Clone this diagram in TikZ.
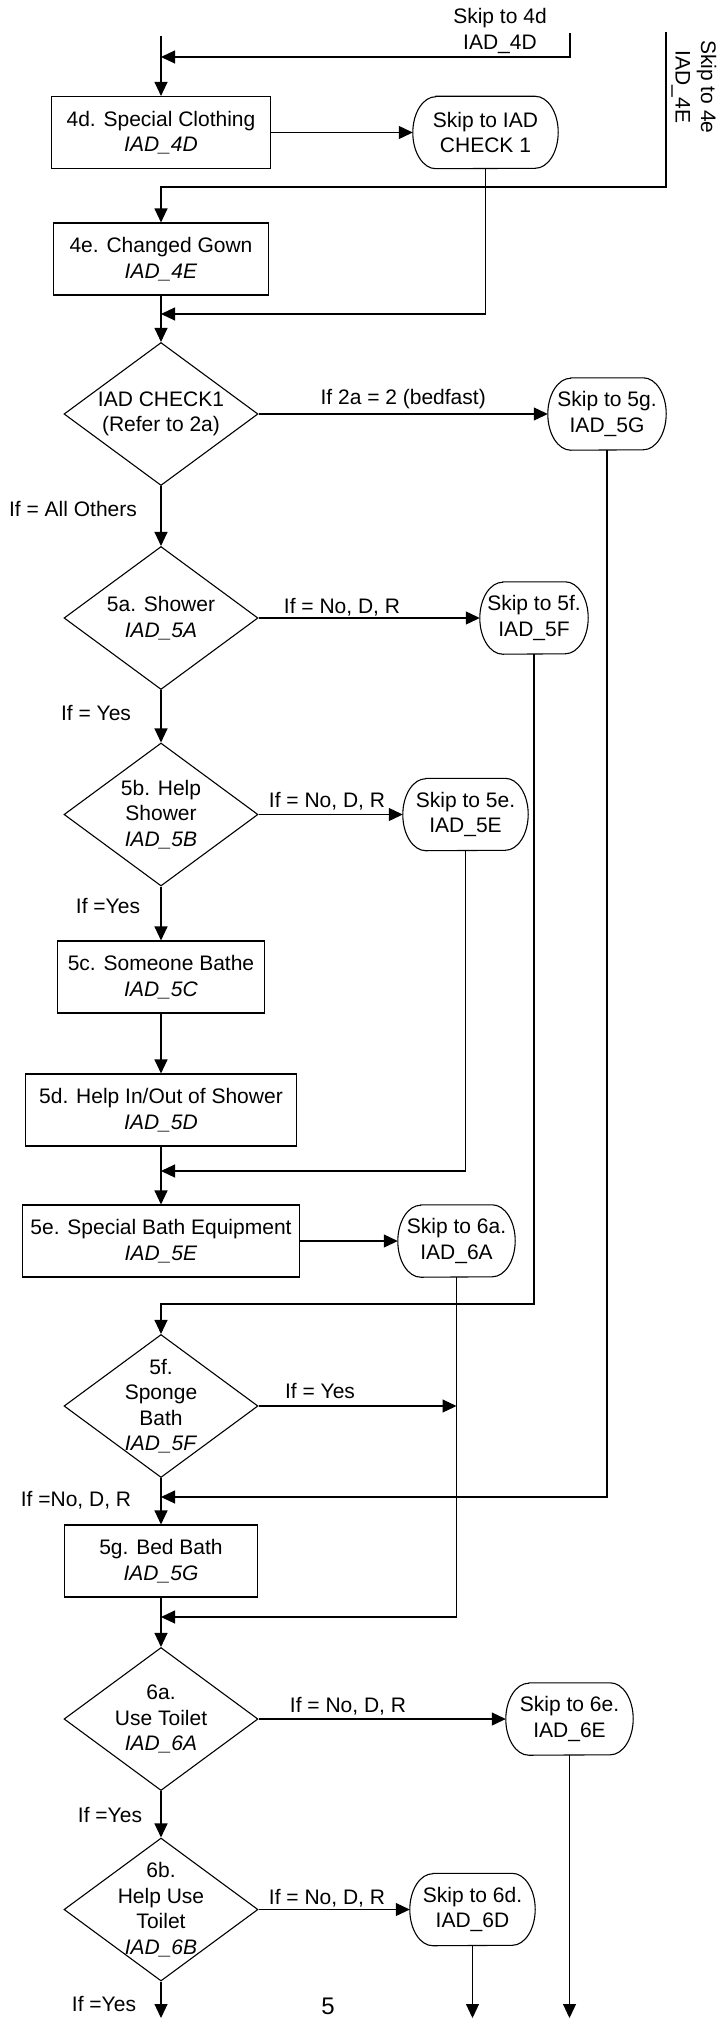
\documentclass[tikz,border=0pt]{standalone}
\usepackage{fontspec}
\setmainfont{Liberation Sans}
\usetikzlibrary{shapes.geometric,arrows.meta}
\newcommand\skipoutline[1]{%
  \draw[conn] ([xshift=23pt]#1.north west) -- ([xshift=-23pt]#1.north east)
    arc[start angle=90,end angle=-90,x radius=23pt,y radius=36pt]
    -- ([xshift=23pt]#1.south west)
    arc[start angle=270,end angle=90,x radius=23pt,y radius=36pt] -- cycle;}
\begin{document}
\begin{tikzpicture}[x=1pt,y=-1pt,
  every node/.style={font=\fontsize{21}{25.5}\selectfont, inner sep=0pt, align=center},
  procbox/.style={draw, line width=1.1pt, rectangle, minimum height=72pt},
  skipbox/.style={rectangle, minimum height=72pt},
  decis/.style={draw, line width=1.1pt, diamond, minimum width=194pt, minimum height=143pt},
  conn/.style={line width=1.1pt},
  arr/.style={conn, -{Triangle[length=14pt,width=13pt]}},
  ]
\useasboundingbox (0,0) rectangle (718,2020);

% ---------- nodes ----------
\node[procbox, minimum width=219pt] (b4d) at (161,132.5) {4d. Special Clothing\\\textit{IAD\_4D}};
\node[skipbox, minimum width=145pt] (s4d) at (485.5,132.5) {Skip to IAD\\CHECK 1};
\node[procbox, minimum width=215pt] (b4e) at (161,259) {4e. Changed Gown\\\textit{IAD\_4E}};
\node[decis, label={center:IAD CHECK1\\(Refer to 2a)}] (d1) at (161,414) {};
\node[skipbox, minimum width=118pt] (s5g) at (607,414) {Skip to 5g.\\IAD\_5G};
\node[decis, label={center:5a. Shower\\\textit{IAD\_5A}}] (d5a) at (161,618) {};
\node[skipbox, minimum width=108pt] (s5f) at (534,618) {Skip to 5f.\\IAD\_5F};
\node[decis, label={center:5b. Help\\Shower\\\textit{IAD\_5B}}] (d5b) at (161,814.5) {};
\node[skipbox, minimum width=125pt] (s5e) at (465.5,814.5) {Skip to 5e.\\IAD\_5E};
\node[procbox, minimum width=207pt] (b5c) at (161,977) {5c. Someone Bathe\\\textit{IAD\_5C}};
\node[procbox, minimum width=271pt] (b5d) at (161,1110) {5d. Help In/Out of Shower\\\textit{IAD\_5D}};
\node[procbox, minimum width=277pt] (b5e) at (161,1241) {5e. Special Bath Equipment\\\textit{IAD\_5E}};
\node[skipbox, minimum width=117pt] (s6a) at (456.5,1241) {Skip to 6a.\\IAD\_6A};
\node[decis, label={center:5f.\\Sponge\\Bath\\\textit{IAD\_5F}}] (d5f) at (161,1406) {};
\node[procbox, minimum width=193pt] (b5g) at (161,1561) {5g. Bed Bath\\\textit{IAD\_5G}};
\node[decis, label={center:6a.\\Use Toilet\\\textit{IAD\_6A}}] (d6a) at (161,1719) {};
\node[skipbox, minimum width=127pt] (s6e) at (569.5,1719) {Skip to 6e.\\IAD\_6E};
\node[decis, label={center:6b.\\Help Use\\Toilet\\\textit{IAD\_6B}}] (d6b) at (161,1909.5) {};
\node[skipbox, minimum width=125pt] (s6d) at (472.5,1909.5) {Skip to 6d.\\IAD\_6D};

\skipoutline{s4d}
\skipoutline{s5g}
\skipoutline{s5f}
\skipoutline{s5e}
\skipoutline{s6a}
\skipoutline{s6e}
\skipoutline{s6d}

% ---------- free texts ----------
\node (t4d) at (500,31) {Skip to 4d\\IAD\_4D};
\node[rotate=-90] (t4e) at (694,87) {Skip to 4e\\IAD\_4E};
\node (pg) at (328,2006) {\fontsize{24}{28}\selectfont 5};

% ---------- coordinates ----------
\coordinate (top) at (161,36);
\coordinate (k4dtop) at (570,33);
\coordinate (k4d) at (161,57);
\coordinate (k4etop) at (666,32);
\coordinate (k4e) at (666,187);
\coordinate (m1) at (161,314);
\coordinate (m2) at (161,1497);
\coordinate (r5f) at (534,1304);
\coordinate (m4) at (161,1171);
\coordinate (m5) at (161,1617);
\coordinate (e1) at (161,2018);

% ---------- connectors ----------
\draw[arr] (top) -- (b4d.north);
\draw[arr] (k4dtop) |- (k4d);
\draw[arr] (b4d.east) -- (s4d.west);
\draw[arr] (k4etop) -- (k4e) -| (b4e.north);
\draw[arr] (s4d.south) |- (m1);
\draw[arr] (b4e.south) -- (d1.north);
\draw[arr] (d1.east) -- node[above=5pt] (l1) {If 2a = 2 (bedfast)} (s5g.west);
\draw[arr] (d1.south) -- (d5a.north);
\node (l2) at (73,509) {If = All Others};
\draw[arr] (s5g.south) |- (m2);
\draw[arr] (d5a.east) -- (s5f.west);
\node (l3) at (342,607) {If = No, D, R};
\draw[arr] (d5a.south) -- (d5b.north);
\node (l4) at (96,713) {If = Yes};
\draw[arr] (s5f.south) -- (r5f) -| (d5f.north);
\draw[arr] (d5b.east) -- (s5e.west);
\node (l5) at (327,801) {If = No, D, R};
\draw[arr] (d5b.south) -- (b5c.north);
\node (l6) at (108,906) {If =Yes};
\draw[arr] (b5c.south) -- (b5d.north);
\draw[arr] (s5e.south) |- (m4);
\draw[arr] (b5d.south) -- (b5e.north);
\draw[arr] (b5e.east) -- (s6a.west);
\draw[arr] (s6a.south) |- (m5);
\draw[arr] (d5f.east) -- (d5f.east -| s6a.south);
\node (l7) at (320,1391) {If = Yes};
\draw[arr] (d5f.south) -- (b5g.north);
\node (l8) at (76,1500) {If =No, D, R};
\draw[arr] (b5g.south) -- (d6a.north);
\draw[arr] (d6a.east) -- (s6e.west);
\node (l9) at (348,1706) {If = No, D, R};
\draw[arr] (d6a.south) -- (d6b.north);
\node (l10) at (110,1815) {If =Yes};
\draw[arr] (d6b.east) -- (s6d.west);
\node (l11) at (327,1898) {If = No, D, R};
\draw[arr] (s6e.south) -- (s6e.south |- e1);
\draw[arr] (s6d.south) -- (s6d.south |- e1);
\draw[arr] (d6b.south) -- (e1);
\node (l12) at (104,2004) {If =Yes};
\end{tikzpicture}
\end{document}
